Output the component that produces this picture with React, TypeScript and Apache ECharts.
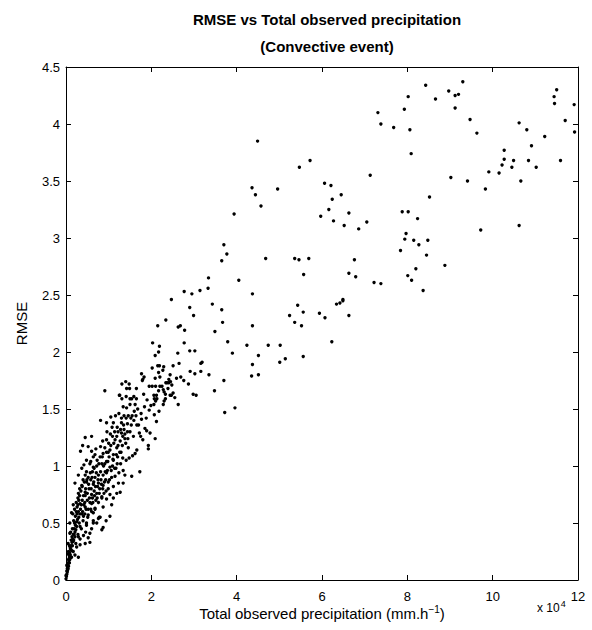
import React, { useEffect, useRef } from "react";
import * as echarts from "echarts";

// Total observed precipitation is in units of 10^4 (mm.h^-1); RMSE unitless.
const titleLines = ["RMSE vs Total observed precipitation", "(Convective event)"];
const xAxisTitle = "Total observed precipitation (mm.h{sup|−1})";
const xTicks = [0, 2, 4, 6, 8, 10, 12];
const yTicks = [0, 0.5, 1, 1.5, 2, 2.5, 3, 3.5, 4, 4.5];

// Sparse far points (x > 7)
const farPoints: [number, number][] = [
  [7.31, 4.10], [7.38, 4.00], [7.68, 3.97], [7.13, 3.55], [7.05, 3.14], [7.22, 2.61], [7.38, 2.60],
  [8.43, 4.34], [9.30, 4.37], [8.02, 4.24], [8.97, 4.29], [9.12, 4.25], [9.20, 4.26], [8.66, 4.22],
  [7.93, 4.13], [9.12, 4.14], [11.50, 4.30], [11.44, 4.24], [11.45, 4.18], [11.91, 4.17], [8.06, 3.95],
  [9.47, 4.04], [9.63, 3.92], [10.62, 4.01], [10.80, 3.95], [11.70, 4.03], [11.92, 3.93], [11.22, 3.89],
  [8.09, 3.74], [10.91, 3.81], [10.27, 3.77], [10.27, 3.69], [10.49, 3.68], [10.84, 3.68], [10.22, 3.64],
  [10.45, 3.62], [11.02, 3.62], [11.59, 3.68], [9.91, 3.58], [10.15, 3.57], [9.02, 3.53], [9.41, 3.50],
  [10.66, 3.50], [9.83, 3.43], [8.52, 3.36], [7.88, 3.23], [8.02, 3.23], [8.24, 3.17], [9.72, 3.07],
  [10.62, 3.11], [7.97, 3.04], [7.94, 2.99], [8.15, 2.98], [8.48, 2.98], [8.27, 2.94], [7.84, 2.89],
  [8.45, 2.85], [8.88, 2.76], [8.20, 2.73], [8.01, 2.67], [8.10, 2.63], [8.37, 2.54],
];

// Middle points (3 < x < 7)
const midPoints: [number, number][] = [
  [4.49, 3.85], [5.72, 3.68], [5.47, 3.62], [6.06, 3.48], [6.21, 3.46], [4.36, 3.44], [4.96, 3.43],
  [4.44, 3.38], [6.45, 3.38], [6.24, 3.34], [4.57, 3.28], [6.16, 3.25], [6.63, 3.22], [3.94, 3.21],
  [5.97, 3.19], [6.27, 3.15], [6.52, 3.11], [6.86, 3.08], [3.70, 2.94], [3.77, 2.86], [3.65, 2.80],
  [4.68, 2.82], [5.36, 2.82], [5.46, 2.81], [5.69, 2.82], [6.76, 2.81], [3.34, 2.65], [4.05, 2.63],
  [5.57, 2.68], [6.63, 2.69], [6.79, 2.66], [3.14, 2.54], [3.33, 2.56], [4.37, 2.51], [6.49, 2.46],
  [3.43, 2.42], [3.65, 2.37], [3.67, 2.26], [4.37, 2.23], [3.49, 2.18], [3.79, 2.09], [3.90, 1.99],
  [4.24, 2.06], [4.51, 1.97], [4.74, 2.06], [5.02, 2.06], [4.37, 1.89], [4.35, 1.79], [4.51, 1.80],
  [5.01, 1.91], [5.14, 1.94], [5.56, 1.96], [5.43, 2.41], [5.56, 2.35], [5.24, 2.32], [5.36, 2.26],
  [5.52, 2.23], [5.94, 2.34], [6.07, 2.30], [6.34, 2.42], [6.42, 2.43], [6.49, 2.45], [6.63, 2.32],
  [6.23, 2.09], [3.16, 1.90], [3.19, 1.91], [3.16, 1.83], [3.35, 1.80], [3.70, 1.75], [3.48, 1.66],
  [3.96, 1.51], [3.72, 1.47],
];

// Upper band (1.3 < x < 3.1)
const bandUpper: [number, number][] = [
  [2.77, 2.53], [2.95, 2.51], [2.47, 2.46], [2.90, 2.39], [2.99, 2.32], [2.34, 2.28], [2.15, 2.23],
  [2.63, 2.22], [2.68, 2.23], [2.78, 2.19], [2.77, 2.08], [2.03, 2.08], [2.19, 2.05], [2.17, 2.00],
  [2.62, 1.99], [2.90, 2.01], [3.02, 2.01], [2.09, 1.97], [2.02, 1.86], [2.15, 1.88], [2.19, 1.88],
  [2.29, 1.87], [2.27, 1.84], [2.17, 1.82], [2.51, 1.88], [2.65, 1.90], [2.09, 1.77], [2.20, 1.78],
  [2.44, 1.80], [2.41, 1.76], [1.77, 1.81], [1.80, 1.76], [1.83, 1.78], [2.91, 1.83], [3.02, 1.81],
  [2.59, 1.77], [2.69, 1.78], [2.76, 1.75], [2.87, 1.72], [1.31, 1.72], [1.40, 1.74], [1.48, 1.72],
  [1.49, 1.68], [1.65, 1.68], [1.95, 1.70], [2.02, 1.70], [2.10, 1.70], [2.20, 1.70], [2.34, 1.73],
  [2.37, 1.73], [2.39, 1.68], [2.25, 1.70], [2.48, 1.71], [2.30, 1.65], [2.17, 1.66], [2.06, 1.62],
  [2.12, 1.62], [2.47, 1.62], [2.55, 1.60], [2.33, 1.63], [2.98, 1.63], [3.05, 1.62], [1.82, 1.63],
  [0.91, 1.66], [1.26, 1.62], [1.41, 1.61], [1.59, 1.61], [1.50, 1.59], [1.65, 1.59], [2.07, 1.59],
  [2.13, 1.59], [2.33, 1.59], [1.42, 1.68], [1.79, 1.75], [2.41, 1.73], [2.45, 1.74], [2.28, 1.67],
  [2.44, 1.62], [2.51, 1.64], [1.31, 1.59], [1.54, 1.59], [2.10, 1.57], [2.30, 1.57],
];

// Central band (1.2 < x < 2.7, 0.9 < y < 1.6)
const bandCentral: [number, number][] = [
  [1.50, 1.54], [1.62, 1.54], [2.06, 1.54], [2.28, 1.54], [1.34, 1.52], [1.42, 1.51], [1.99, 1.53],
  [1.95, 1.49], [2.63, 1.54], [2.18, 1.48], [2.07, 1.45], [1.36, 1.44], [1.46, 1.44], [1.55, 1.44],
  [1.64, 1.44], [1.30, 1.42], [1.41, 1.42], [1.52, 1.42], [1.59, 1.40], [1.77, 1.41], [2.12, 1.39],
  [1.30, 1.38], [1.44, 1.37], [1.66, 1.36], [1.28, 1.32], [1.36, 1.32], [1.44, 1.30], [1.30, 1.29],
  [1.38, 1.28], [1.85, 1.33], [1.89, 1.31], [1.72, 1.29], [1.75, 1.26], [1.80, 1.23], [1.97, 1.29],
  [2.09, 1.24], [1.33, 1.26], [1.38, 1.24], [1.93, 1.18], [1.93, 1.15], [1.66, 1.14], [1.62, 1.11],
  [1.56, 1.09], [1.48, 1.07], [1.41, 1.05], [1.33, 1.07], [1.28, 1.02], [1.73, 0.95], [1.34, 0.96],
  [1.38, 0.92], [1.54, 0.91],
];

// Lower band (x < 1.3)
const bandLower: [number, number][] = [
  [1.25, 1.62], [0.81, 1.40], [1.05, 1.43], [0.95, 1.38], [1.11, 1.38], [1.20, 1.34], [0.45, 1.25],
  [0.60, 1.26], [1.09, 1.26], [1.19, 1.26], [1.15, 1.23], [0.86, 1.22], [0.95, 1.23], [0.39, 1.18],
  [0.52, 1.17], [0.34, 1.13], [0.81, 1.17], [0.91, 1.16], [1.03, 1.14], [1.19, 1.16], [0.60, 1.13],
  [0.68, 1.10], [0.87, 1.11], [0.99, 1.12], [1.11, 1.10], [0.48, 1.05], [0.58, 1.04], [0.42, 1.01],
  [0.73, 1.05], [0.84, 1.02], [0.95, 1.04], [1.11, 1.05], [1.20, 1.02], [0.37, 0.98], [0.64, 0.99],
  [1.03, 0.99], [0.29, 0.92], [0.45, 0.92], [0.52, 0.90], [0.76, 0.92], [0.95, 0.94], [1.15, 0.91],
  [0.21, 0.85], [0.37, 0.83], [0.48, 0.86], [0.64, 0.84], [0.76, 0.85], [0.87, 0.83], [0.99, 0.86],
  [1.11, 0.82], [1.23, 0.85], [0.29, 0.76], [0.45, 0.77], [0.60, 0.75], [0.72, 0.76], [0.84, 0.73],
  [1.03, 0.75], [1.19, 0.76], [1.11, 0.72], [0.95, 0.71], [0.17, 0.66], [0.33, 0.67], [0.45, 0.64],
  [0.60, 0.67], [0.68, 0.63], [0.87, 0.64], [1.07, 0.66], [0.13, 0.59], [0.29, 0.60], [0.41, 0.56],
  [0.52, 0.57], [0.64, 0.59], [0.76, 0.54], [1.03, 0.56], [0.09, 0.50], [0.25, 0.51], [0.33, 0.47],
  [0.48, 0.48], [0.60, 0.45], [0.72, 0.50], [0.84, 0.44], [0.09, 0.41], [0.21, 0.42], [0.29, 0.38],
  [0.41, 0.39], [0.52, 0.37], [0.56, 0.41], [0.05, 0.32], [0.17, 0.34], [0.25, 0.29], [0.33, 0.31],
  [0.45, 0.32], [0.05, 0.23], [0.13, 0.20], [0.17, 0.25], [0.09, 0.18], [0.21, 0.22], [0.29, 0.20],
  [0.02, 0.13], [0.05, 0.10], [0.03, 0.07], [0.08, 0.15], [0.00, 0.04], [0.00, 0.01], [0.78, 0.55],
  [0.56, 0.33], [0.94, 0.52], [1.34, 0.85], [1.27, 0.77], [0.80, 0.55], [0.87, 0.46], [0.64, 0.50],
];

// Dense core (extra points read in the nearly solid part of the band)
const bandCore: [number, number][] = [
  [0.12, 0.35], [0.15, 0.45], [0.18, 0.52], [0.22, 0.48], [0.26, 0.58], [0.30, 0.55], [0.34, 0.62],
  [0.38, 0.70], [0.42, 0.66], [0.45, 0.74], [0.50, 0.70], [0.24, 0.68], [0.20, 0.62], [0.16, 0.58],
  [0.28, 0.40], [0.36, 0.45], [0.40, 0.52], [0.44, 0.58], [0.48, 0.50], [0.52, 0.62], [0.56, 0.68],
  [0.60, 0.60], [0.62, 0.72], [0.66, 0.78], [0.70, 0.70], [0.74, 0.82], [0.78, 0.76], [0.82, 0.88],
  [0.86, 0.80], [0.90, 0.86], [0.54, 0.80], [0.58, 0.88], [0.62, 0.95], [0.68, 0.90], [0.72, 1.00],
  [0.80, 1.08], [0.88, 1.00], [0.92, 0.95], [0.98, 1.04], [1.02, 0.88], [1.06, 0.96], [1.10, 1.06],
  [1.14, 0.98], [1.18, 1.10], [1.22, 1.18], [1.26, 1.12], [1.00, 1.20], [0.96, 1.30], [1.04, 1.28],
  [1.08, 1.34], [1.16, 1.44], [1.22, 1.30], [1.24, 1.46], [0.70, 1.15], [0.64, 1.08], [0.56, 1.02],
  [0.48, 0.95], [0.40, 0.88], [0.32, 0.80], [0.28, 0.72], [0.06, 0.25], [0.08, 0.30], [0.10, 0.28],
  [0.14, 0.38], [0.04, 0.15], [0.06, 0.18], [0.03, 0.12], [0.07, 0.22], [0.02, 0.08], [0.11, 0.42],
  [0.19, 0.40], [0.23, 0.32], [0.33, 0.36], [0.37, 0.58], [0.46, 0.42], [0.64, 0.52], [0.68, 0.62],
  [0.76, 0.68], [0.84, 0.72], [0.94, 0.78],
];

// Wedge near the origin and second pass over the solid part of the band
const bandWedge: [number, number][] = [
  [0.01, 0.03], [0.02, 0.05], [0.03, 0.10], [0.04, 0.09], [0.05, 0.14], [0.06, 0.12], [0.07, 0.17],
  [0.08, 0.20], [0.09, 0.24], [0.10, 0.22], [0.11, 0.27], [0.12, 0.30], [0.13, 0.26], [0.14, 0.33],
  [0.15, 0.30], [0.16, 0.36], [0.17, 0.40], [0.18, 0.35], [0.19, 0.45], [0.20, 0.50], [0.21, 0.38],
  [0.22, 0.56], [0.23, 0.44], [0.24, 0.60], [0.25, 0.47], [0.26, 0.64], [0.27, 0.53], [0.28, 0.66],
  [0.30, 0.70], [0.31, 0.50], [0.32, 0.74], [0.33, 0.58], [0.35, 0.78], [0.36, 0.66], [0.38, 0.82],
  [0.39, 0.60], [0.41, 0.74], [0.43, 0.86], [0.44, 0.68], [0.46, 0.80], [0.47, 0.62], [0.49, 0.88],
  [0.50, 0.76], [0.51, 0.55], [0.53, 0.84], [0.55, 0.72], [0.57, 0.94], [0.58, 0.62], [0.59, 0.80],
  [0.61, 0.90], [0.63, 0.68], [0.65, 0.86], [0.66, 0.98], [0.67, 0.74], [0.69, 0.82], [0.71, 0.94],
  [0.73, 0.72], [0.75, 0.88], [0.77, 1.02], [0.79, 0.80], [0.81, 0.95], [0.83, 0.84], [0.85, 1.08],
  [0.87, 0.92], [0.89, 0.76], [0.91, 1.02], [0.93, 0.88], [0.95, 1.12], [0.97, 0.96], [0.99, 0.80],
  [1.01, 1.08], [1.05, 1.18], [1.07, 0.90], [1.09, 1.00], [1.12, 1.20], [1.14, 1.30], [1.17, 0.98],
  [1.21, 1.08], [1.24, 0.94], [1.27, 1.22], [1.29, 1.12], [1.32, 1.18], [1.35, 1.36], [1.40, 1.20],
  [1.45, 1.24], [1.50, 1.30], [1.46, 1.16], [1.53, 1.36], [1.58, 1.26], [1.60, 1.48], [1.70, 1.36],
  [1.68, 1.50], [1.76, 1.46], [1.84, 1.52], [1.88, 1.42], [1.90, 1.58],
];

const FONT = "'Liberation Sans', Arial, Helvetica, sans-serif";

export default function App() {
  const ref = useRef<HTMLDivElement>(null);
  useEffect(() => {
    if (!ref.current) return;
    const chart = echarts.init(ref.current, undefined, { renderer: "svg" });
    const data = [
      ...farPoints, ...midPoints, ...bandUpper, ...bandCentral, ...bandLower, ...bandCore, ...bandWedge,
    ];
    const axisCommon = {
      type: "value" as const,
      splitLine: { show: false },
      axisLine: { show: true, onZero: false, lineStyle: { color: "#000", width: 1 } },
      axisTick: { show: true, inside: true, length: 5, lineStyle: { color: "#000", width: 1 } },
    };
    chart.setOption({
      animation: false,
      backgroundColor: "#fff",
      title: {
        text: titleLines.join("\n"),
        left: 322,
        top: 1,
        textAlign: "center",
        textStyle: { fontFamily: FONT, fontSize: 15, fontWeight: "bold", color: "#000", lineHeight: 27 },
      },
      grid: { left: 66, right: 14, top: 67, bottom: 50, containLabel: false },
      xAxis: [
        {
          ...axisCommon,
          position: "bottom",
          min: xTicks[0],
          max: xTicks[xTicks.length - 1],
          interval: 2,
          axisLabel: { color: "#000", fontFamily: FONT, fontSize: 13, margin: 10 },
        },
        {
          ...axisCommon,
          position: "top",
          min: 0,
          max: 12,
          interval: 2,
          axisLabel: { show: false },
        },
      ],
      yAxis: [
        {
          ...axisCommon,
          position: "left",
          min: yTicks[0],
          max: yTicks[yTicks.length - 1],
          interval: 0.5,
          axisLabel: { color: "#000", fontFamily: FONT, fontSize: 13, margin: 6 },
          name: "RMSE",
          nameLocation: "middle",
          nameRotate: 90,
          nameGap: 37,
          nameTextStyle: { color: "#000", fontFamily: FONT, fontSize: 15 },
        },
        {
          ...axisCommon,
          position: "right",
          min: 0,
          max: 4.5,
          interval: 0.5,
          axisLabel: { show: false },
        },
      ],
      graphic: [
        {
          type: "text",
          x: 322,
          y: 604,
          style: {
            text: xAxisTitle,
            fontFamily: FONT,
            fontSize: 15,
            fill: "#000",
            align: "center",
            verticalAlign: "top",
            rich: { sup: { fontSize: 10, fontFamily: FONT, fill: "#000", padding: [0, 0, 8, 0] } },
          },
        },
        {
          type: "text",
          left: 537,
          top: 599,
          style: {
            text: "x 10{sup|4}",
            fontFamily: FONT,
            fontSize: 12,
            fill: "#000",
            rich: { sup: { fontSize: 9, fontFamily: FONT, fill: "#000", padding: [0, 0, 8, 1] } },
          },
        },
      ],
      series: [
        {
          type: "scatter",
          xAxisIndex: 0,
          yAxisIndex: 0,
          data,
          symbol: "circle",
          symbolSize: 3.4,
          itemStyle: { color: "#000", opacity: 1 },
          emphasis: { disabled: true },
          silent: true,
        },
      ],
    });
    return () => chart.dispose();
  }, []);
  return <div ref={ref} style={{ position: "fixed", left: 0, top: 0, width: 592, height: 630, background: "#fff" }} />;
}
